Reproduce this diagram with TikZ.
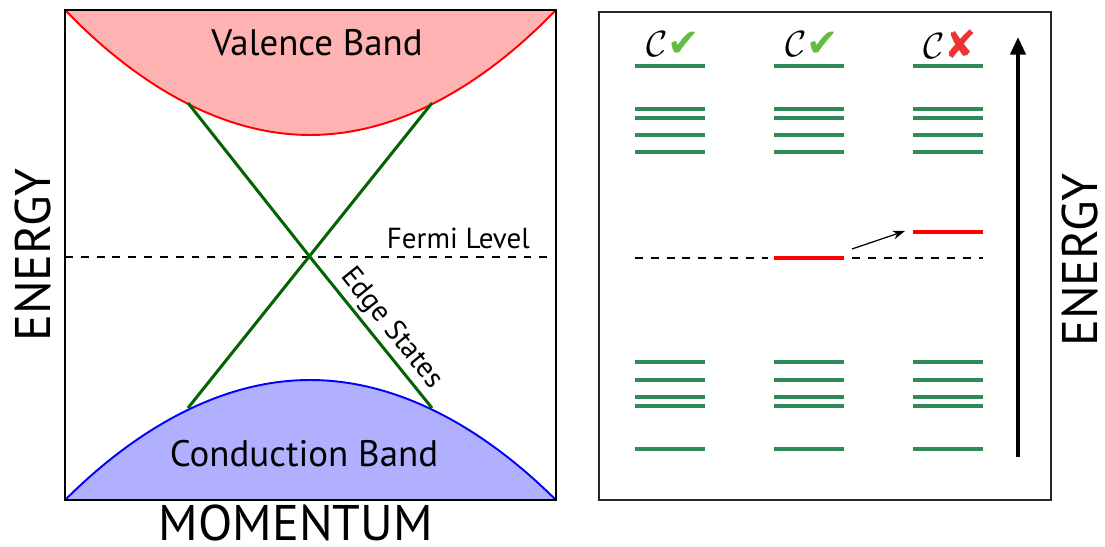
\documentclass[tikz,border=0pt]{standalone}
\usepackage{fontspec}
\setmainfont{PT Sans}
\newfontfamily\symfont{DejaVu Sans}
\usetikzlibrary{arrows.meta}

\definecolor{valfill}{RGB}{255,178,178}
\definecolor{confill}{RGB}{176,176,255}
\definecolor{edgegreen}{RGB}{0,100,0}
\definecolor{levelgreen}{RGB}{46,139,87}
\definecolor{okgreen}{RGB}{102,187,68}
\definecolor{badred}{RGB}{238,51,51}

\tikzset{
  level/.style={levelgreen, line width=2.3pt},
  hoplevel/.style={red, line width=2.3pt},
  fermi/.style={dash pattern=on 4.5pt off 4.5pt, line width=0.9pt},
  axislabel/.style={font=\fontsize{28.5}{32}\selectfont},
  bandlabel/.style={font=\fontsize{21}{24}\selectfont},
  smalllabel/.style={font=\fontsize{16.5}{19}\selectfont},
  chernlabel/.style={font=\fontsize{22}{24}\selectfont, inner sep=1pt}
}

\begin{document}
\begin{tikzpicture}[x=0.02cm, y=0.02cm]
    \useasboundingbox (0,0) rectangle (1105,547);

    % Bands
    \fill[valfill] (65,537) parabola bend (310,412) (556,537) -- cycle;
    \fill[confill] (65,47) parabola bend (310,167) (556,47) -- cycle;
    \draw[red, line width=1.1pt] (65,537) parabola bend (310,412) (556,537);
    \draw[blue, line width=1.1pt] (65,47) parabola bend (310,167) (556,47);

    % Frame
    \draw[line width=1.1pt] (65,47) rectangle (556,537);

    % Fermi level
    \draw[fermi] (65,290) -- (556,290);
    \node[smalllabel, anchor=base east] (fermilbl) at (536,298) {Fermi Level};

    % Edge states
    \coordinate (tl) at (188,444);
    \coordinate (tr) at (432,444);
    \coordinate (bl) at (188,139);
    \coordinate (br) at (432,139);
    \coordinate (dirac) at (310,290);
    \draw[edgegreen, line width=1.7pt] (tr) -- (bl);
    \draw[edgegreen, line width=1.7pt] (tl) -- (dirac)
        -- node[smalllabel, sloped, above, pos=0.55, black, inner sep=2pt] (edgelbl) {Edge States} (br);

    \node[bandlabel] (vallbl) at (317,504) {Valence Band};
    \node[bandlabel] (conlbl) at (304,93) {Conduction Band};

    % Axis labels
    \node[axislabel, rotate=90] (energyl) at (33,292) {ENERGY};
    \node[axislabel] (momlbl) at (296,24) {MOMENTUM};

    % Right panel
    \draw[line width=1.6pt, black!85] (599,47) rectangle (1051,535);

    \foreach \cx in {635,774,913}
      \foreach \ly in {481,438,429,412,395,185,167,150,141,98}
        \draw[level] (\cx,\ly) -- ++(70,0);

    \draw[fermi] (635,289) -- (768,289);
    \draw[fermi] (852,289) -- (983,289);
    \draw[hoplevel] (774,289) -- (844,289);
    \draw[hoplevel] (913,315) -- (983,315);

    \coordinate (hopa) at (852,298);
    \coordinate (hopb) at (905,316);
    \draw[-{Stealth[length=7pt, width=5pt]}, line width=0.7pt] (hopa) -- (hopb);

    % Chern labels
    \node[chernlabel] (cha) at (673,503) {$\mathcal{C}${\symfont\color{okgreen}✔}};
    \node[chernlabel] (chb) at (812,503) {$\mathcal{C}${\symfont\color{okgreen}✔}};
    \node[chernlabel] (chc) at (950,503) {$\mathcal{C}${\symfont\color{badred}✘}};

    % Energy arrow
    \coordinate (ebot) at (1018,90);
    \coordinate (etop) at (1018,510);
    \draw[-{Triangle[length=10pt, width=8.5pt]}, line width=2.3pt] (ebot) -- (etop);
    \node[axislabel, rotate=90] (energyr) at (1080,287) {ENERGY};

\end{tikzpicture}
\end{document}
